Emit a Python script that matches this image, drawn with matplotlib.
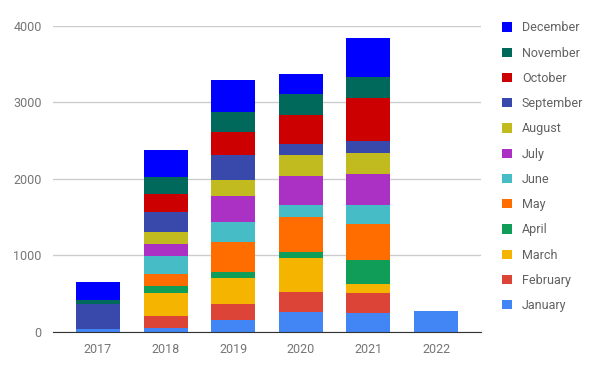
import numpy as np
import matplotlib.pyplot as plt
from matplotlib.patches import Patch

years = ["2017", "2018", "2019", "2020", "2021", "2022"]
months = ["January", "February", "March", "April", "May", "June",
          "July", "August", "September", "October", "November", "December"]

# one list per month, values for 2017..2022
january = [39, 52, 148, 262, 249, 275]
february = [0, 149, 219, 262, 262, 0]
march = [0, 310, 340, 437, 118, 0]
april = [0, 83, 70, 78, 306, 0]
may = [0, 157, 393, 455, 480, 0]
june = [0, 245, 271, 157, 236, 0]
july = [0, 148, 328, 380, 406, 0]
august = [0, 157, 222, 275, 275, 0]
september = [319, 262, 315, 148, 157, 0]
october = [0, 236, 305, 376, 568, 0]
november = [52, 219, 262, 279, 271, 0]
december = [245, 361, 415, 258, 511, 0]

series = [january, february, march, april, may, june,
          july, august, september, october, november, december]
colors = ["#4285F4", "#DB4437", "#F4B400", "#0F9D58", "#FF6D00", "#46BDC6",
          "#AB30C4", "#C2BB20", "#3949AB", "#CC0000", "#00695C", "#0000FF"]

plt.rcParams['font.family'] = ['Roboto', 'DejaVu Sans']

fig = plt.figure(figsize=(6, 3.71), dpi=100)
ax = fig.add_axes([0.088, 0.106, 0.714, 0.824])

x = np.arange(len(years))
bottom = np.zeros(len(years))
for vals, c in zip(series, colors):
    ax.bar(x, vals, width=0.65, bottom=bottom, color=c, zorder=3)
    bottom += np.array(vals)

ax.set_xlim(-0.666, 5.666)
ax.set_ylim(0, 4000)
ax.set_yticks([0, 1000, 2000, 3000, 4000])
ax.set_xticks(x)
ax.set_xticklabels(years)
ax.grid(axis='y', color='#cccccc', linewidth=1, zorder=0)
for s in ['top', 'right', 'left']:
    ax.spines[s].set_visible(False)
ax.spines['bottom'].set_color('#333333')
ax.spines['bottom'].set_zorder(4)
ax.tick_params(length=0, labelsize=9, labelcolor='#757575')
ax.tick_params(axis='x', pad=8)
ax.tick_params(axis='y', pad=8)

handles = [Patch(facecolor=c, label=m) for m, c in zip(months, colors)][::-1]
fig.legend(handles=handles, loc='upper left', bbox_to_anchor=(0.829, 0.956),
           frameon=False, fontsize=9, labelcolor='#616161',
           handlelength=0.75, handleheight=0.75, handletextpad=0.8,
           labelspacing=0.98, borderaxespad=0)

fig.savefig("out.png", dpi=100)
